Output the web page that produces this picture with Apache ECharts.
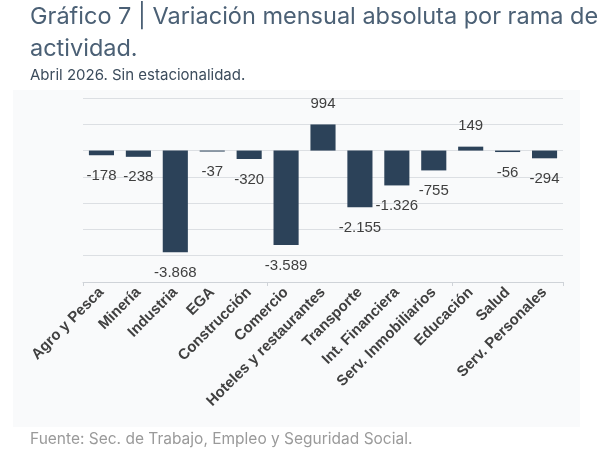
<!DOCTYPE html>
<html>
<head>
<meta charset="utf-8">
<script src="https://cdn.jsdelivr.net/npm/echarts@6/dist/echarts.min.js"></script>
<style>
  html, body { margin: 0; padding: 0; background: #fff; }
  #main { width: 610px; height: 466px; }
</style>
</head>
<body>
<div id="main"></div>
<script>
// datos del gráfico
const ramas = ['Agro y Pesca', 'Minería', 'Industria', 'EGA', 'Construcción', 'Comercio',
    'Hoteles y restaurantes', 'Transporte', 'Int. Financiera', 'Serv. Inmobiliarios',
    'Educación', 'Salud', 'Serv. Personales'];
const variacion = [-178, -238, -3868, -37, -320, -3589, 994, -2155, -1326, -755, 149, -56, -294];
const ejeMin = -5000;
const ejeMax = 2000;
const ejeIntervalo = 1000;

const chart = echarts.init(document.querySelector('#main'));

// formato con punto de miles
function fmt(v) {
    const s = Math.abs(v).toString().replace(/\B(?=(\d{3})+(?!\d))/g, '.');
    return (v < 0 ? '-' : '') + s;
}

const option = {
    backgroundColor: '#fff',
    animation: false,
    graphic: [
        {
            type: 'rect',
            shape: { x: 13, y: 90, width: 567, height: 337 },
            style: { fill: '#f9fafb' },
            z: -10
        },
        {
            type: 'text', left: 30, top: 5,
            style: { text: 'Gráfico 7 | Variación mensual absoluta por rama de', fill: '#4b6075', font: '23.5px Inter' }
        },
        {
            type: 'text', left: 30, top: 37,
            style: { text: 'actividad.', fill: '#4b6075', font: '23.5px Inter' }
        },
        {
            type: 'text', left: 30, top: 68,
            style: { text: 'Abril 2026. Sin estacionalidad.', fill: '#3c4c5c', font: '15px Inter' }
        },
        {
            type: 'text', left: 30, top: 431,
            style: { text: 'Fuente: Sec. de Trabajo, Empleo y Seguridad Social.', fill: '#9a9a9a', font: '15.5px Inter' }
        }
    ],
    grid: { left: 83, right: 47, top: 98, bottom: 184 },
    xAxis: [
        {
            type: 'category',
            data: ramas,
            position: 'bottom',
            axisLine: { show: false },
            axisTick: { show: false },
            axisLabel: {
                interval: 0,
                rotate: 45,
                margin: 8,
                color: '#404040',
                fontWeight: 'bold',
                fontSize: 15,
                fontFamily: 'Liberation Sans'
            }
        },
        {
            type: 'category',
            data: ramas,
            position: 'bottom',
            axisLine: { onZero: true, lineStyle: { color: '#cfd3d8' } },
            axisTick: { show: true, length: 4, lineStyle: { color: '#cfd3d8' } },
            axisLabel: { show: false }
        }
    ],
    yAxis: {
        type: 'value',
        min: ejeMin,
        max: ejeMax,
        interval: ejeIntervalo,
        axisLabel: { show: false },
        axisLine: { show: false },
        axisTick: { show: false },
        splitLine: { lineStyle: { color: '#dcdfe3', width: 1 } }
    },
    series: [
        {
            type: 'bar',
            xAxisIndex: 0,
            barWidth: '68%',
            itemStyle: { color: '#2c4259' },
            data: variacion.map(v => ({
                value: v,
                label: { position: v < 0 ? 'bottom' : 'top' }
            })),
            label: {
                show: true,
                distance: 13,
                color: '#3f3f3f',
                fontSize: 15,
                fontFamily: 'Liberation Sans',
                formatter: p => fmt(p.value)
            }
        }
    ]
};
chart.setOption(option);
</script>
</body>
</html>
